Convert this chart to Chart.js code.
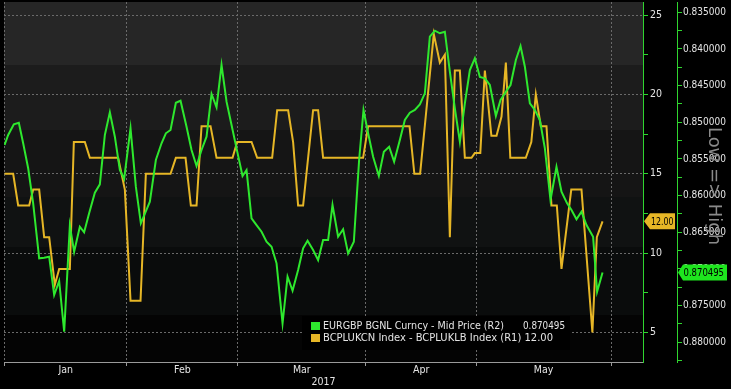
<!DOCTYPE html>
<html><head><meta charset="utf-8">
<script src="https://cdn.jsdelivr.net/npm/chart.js@4"></script>
<style>html,body{margin:0;padding:0;background:#000;overflow:hidden}#wrap{position:relative;width:731px;height:389px}</style>
</head><body><div id="wrap"><canvas id="c" width="731" height="389"></canvas></div>
<script>
const FONT = '"DejaVu Sans Condensed","Liberation Sans Narrow","Arial Narrow","Liberation Sans",sans-serif';

// x axis: trading-day index from 2 Jan 2017
const monthTickDays = [0, 22, 42, 65, 85, 109.3];
const monthLabelDays = [11, 32, 53.5, 75, 97];
const monthLabels = ['Jan', 'Feb', 'Mar', 'Apr', 'May'];
const yearLabel = '2017';

const greenLabel = 'EURGBP BGNL Curncy - Mid Price (R2)';
const greenDays = [0,0.65,1.67,2.57,3.35,4.25,5.15,6.23,7.13,8.03,8.93,9.83,10.73,11.75,12.52,13.55,14.32,15.22,16.25,17.15,18.05,18.95,19.85,20.75,21.52,22.67,23.63,24.53,26.15,27.23,28.25,29.03,29.87,30.83,31.67,32.75,33.65,34.55,35.45,36.35,37.25,38.15,39.05,39.95,40.85,41.75,42.83,43.55,44.45,45.35,46.25,47.15,48.05,48.95,50.03,50.93,51.83,52.83,53.73,54.53,55.53,56.43,57.33,58.23,59.02,60.03,60.93,61.83,62.86,63.81,64.60,65.43,66.33,67.36,68.26,69.21,70.11,71.14,72.04,72.94,73.84,74.74,75.64,76.54,77.44,78.34,79.24,80.14,81.04,81.94,82.84,83.74,84.64,85.54,86.44,87.34,88.42,89.26,90.22,91.06,92.02,92.86,93.64,94.54,95.44,96.34,97.24,98.25,99.33,100.23,101.24,102.03,102.93,103.83,104.73,105.92,106.64,107.62];
const greenVals = [0.85310,0.85173,0.85027,0.85006,0.85286,0.85627,0.86105,0.86855,0.86847,0.86833,0.87355,0.87164,0.87856,0.86410,0.86765,0.86424,0.86500,0.86241,0.85960,0.85846,0.85173,0.84864,0.85196,0.85651,0.85773,0.85082,0.85878,0.86377,0.86083,0.85514,0.85286,0.85150,0.85105,0.84733,0.84706,0.85060,0.85378,0.85596,0.85378,0.85196,0.84614,0.84796,0.84219,0.84719,0.85037,0.85355,0.85732,0.85651,0.86309,0.86401,0.86492,0.86628,0.86697,0.86923,0.87741,0.87106,0.87297,0.87014,0.86718,0.86615,0.86741,0.86878,0.86605,0.86605,0.86128,0.86560,0.86459,0.86787,0.86628,0.85514,0.84832,0.85150,0.85469,0.85732,0.85401,0.85333,0.85537,0.85241,0.84969,0.84869,0.84832,0.84755,0.84605,0.83833,0.83751,0.83786,0.83765,0.84310,0.84809,0.85265,0.84741,0.84287,0.84127,0.84382,0.84400,0.84491,0.84914,0.84696,0.84583,0.84491,0.84150,0.83960,0.84242,0.84741,0.84832,0.84969,0.85355,0.86060,0.85606,0.85946,0.86105,0.86196,0.86323,0.86219,0.86401,0.86560,0.87310,0.870495];

const yellowLabel = 'BCPLUKCN Index - BCPLUKLB Index (R1)';
const yellowDays = [0,1.55,2.45,4.43,5.15,6.23,7.13,8.03,9.05,9.83,11.75,12.47,14.45,15.35,20.44,21.65,22.67,24.47,25.43,29.87,30.83,32.57,33.53,34.55,35.45,37.07,38.15,41.03,41.86,44.45,45.46,48.16,49.06,51.04,51.93,52.83,53.73,55.53,56.43,57.33,64.53,65.43,72.88,73.75,74.79,77.25,78.34,79.24,80.14,81.04,81.94,82.84,84.04,84.64,85.62,86.44,87.61,88.54,89.44,90.22,91.02,93.81,94.80,95.61,96.51,97.53,98.43,99.39,100.23,101.99,103.83,105.79,106.59,107.62];
const yellowVals = [15,15,13,13,14,14,11,11,8,9,9,17,17,16,16,14,7,7,15,15,16,16,13,13,18,18,16,16,17,17,16,16,19,19,17,13,13,19,19,16,16,18,18,15,15,23.8,22,22.5,11,21.5,21.5,16,16,16.3,16.3,21.5,17.4,17.4,18.6,22,16,16,17,20,18,18,13,13,9,14,14,5,11,12];

const GREEN = '#2ee82e';
const YELLOW = '#e6b626';
const AXISGREEN = '#2fd52f';
const GRIDC = '#6a6a6a';
const TXT = '#e4e4e4';

function fitText(ctx, text, x, y, width) {
  const w = ctx.measureText(text).width;
  ctx.save();
  ctx.translate(x, y);
  ctx.scale(width / w, 1);
  ctx.fillText(text, 0, 0);
  ctx.restore();
}

const bandPlugin = {
  id: 'bands',
  beforeDraw(chart) {
    const {ctx, chartArea: a} = chart;
    ctx.save();
    ctx.fillStyle = '#000';
    ctx.fillRect(0, 0, chart.width, chart.height);
    const stops = [[0,63,'#262626'],[63,128,'#1c1c1c'],[128,195,'#151515'],[195,245,'#101212'],[245,313,'#0a0c0c'],[313,400,'#040404']];
    stops.forEach(([t,b,c]) => {
      const y0 = a.top + t, y1 = Math.min(a.bottom, a.top + b);
      if (y1 > y0) { ctx.fillStyle = c; ctx.fillRect(a.left, y0, a.right - a.left, y1 - y0); }
    });
    ctx.restore();
  },
  afterDatasetsDraw(chart) {
    const {ctx} = chart;
    const y1 = chart.scales.y1, y2 = chart.scales.y2;
    const gLast = greenVals[greenVals.length-1].toFixed(6);
    const yLast = yellowVals[yellowVals.length-1].toFixed(2);
    ctx.save();
    // legend
    ctx.fillStyle = '#000';
    ctx.fillRect(302, 316, 268, 34);
    ctx.font = '11px ' + FONT;
    ctx.textBaseline = 'middle';
    ctx.fillStyle = GREEN; ctx.fillRect(311, 322, 9, 8);
    ctx.fillStyle = YELLOW; ctx.fillRect(311, 334, 9, 8);
    ctx.fillStyle = TXT;
    fitText(ctx, chart.data.datasets[0].label, 323, 326, 181);
    fitText(ctx, gLast, 523, 326, 42);
    fitText(ctx, chart.data.datasets[1].label + ' ' + yLast, 323, 338.5, 230);
    // value tags
    const yy = y1.getPixelForValue(yellowVals[yellowVals.length-1]);
    const ax1 = y1.left;
    ctx.fillStyle = YELLOW;
    ctx.beginPath(); ctx.moveTo(ax1+1, yy); ctx.lineTo(ax1+7, yy-8); ctx.lineTo(ax1+32, yy-8); ctx.lineTo(ax1+32, yy+8); ctx.lineTo(ax1+7, yy+8); ctx.closePath(); ctx.fill();
    ctx.fillStyle = '#000';
    fitText(ctx, yLast, ax1+8, yy+0.5, 22.5);
    const gy = y2.getPixelForValue(greenVals[greenVals.length-1]);
    const ax2 = y2.left;
    ctx.fillStyle = '#1ee61e';
    ctx.beginPath(); ctx.moveTo(ax2+1, gy); ctx.lineTo(ax2+6, gy-8); ctx.lineTo(ax2+50, gy-8); ctx.lineTo(ax2+50, gy+8); ctx.lineTo(ax2+6, gy+8); ctx.closePath(); ctx.fill();
    ctx.fillStyle = '#000';
    fitText(ctx, gLast, ax2+6.5, gy+0.5, 40.5);
    // Low => High
    ctx.translate(714, 186);
    ctx.rotate(Math.PI/2);
    ctx.font = '18px ' + FONT;
    ctx.fillStyle = '#8a8a8a';
    ctx.textAlign = 'left';
    fitText(ctx, 'Low => High', -59, 0, 118);
    ctx.restore();
  }
};

const xTicks = monthTickDays.concat(monthLabelDays).sort((a,b)=>a-b);

new Chart(document.getElementById('c'), {
  type: 'line',
  data: {
    datasets: [
      { label: greenLabel, data: greenDays.map((d,i)=>({x:d, y:greenVals[i]})), yAxisID: 'y2', borderColor: GREEN, borderWidth: 2, pointRadius: 0, tension: 0 },
      { label: yellowLabel, data: yellowDays.map((d,i)=>({x:d, y:yellowVals[i]})), yAxisID: 'y1', borderColor: YELLOW, borderWidth: 2, pointRadius: 0, tension: 0 }
    ]
  },
  options: {
    responsive: false, animation: false, devicePixelRatio: 1,
    events: [],
    layout: { padding: { top: 2, left: 4, right: 0, bottom: 0 } },
    plugins: { legend: { display: false }, tooltip: { enabled: false } },
    scales: {
      x: {
        type: 'linear', min: -0.1, max: 114.9,
        afterBuildTicks: s => { s.ticks = xTicks.map(v => ({value: v})); },
        afterFit: s => { s.height = 27; s.paddingLeft = 0; s.paddingRight = 0; },
        grid: {
          color: c => (c.tick && monthTickDays.includes(c.tick.value)) ? GRIDC : 'rgba(0,0,0,0)',
          tickColor: c => (c.tick && monthTickDays.includes(c.tick.value)) ? '#9a9a9a' : 'rgba(0,0,0,0)',
          tickLength: 4, lineWidth: 1
        },
        border: { display: true, color: '#9a9a9a', width: 1, dash: [2, 2] },
        ticks: {
          autoSkip: false, maxRotation: 0, padding: -2, color: TXT,
          font: { family: FONT, size: 10.5 },
          callback: v => { const i = monthLabelDays.indexOf(v); return i >= 0 ? monthLabels[i] : ''; }
        },
        title: { display: true, text: yearLabel, color: TXT, font: { family: FONT, size: 10.5 }, padding: { top: -1, bottom: 0 } }
      },
      y1: {
        type: 'linear', position: 'right', weight: 0, min: 3.14, max: 25.82,
        afterFit: s => { s.width = 34; s.paddingTop = 0; s.paddingBottom = 0; },
        grid: {
          color: c => (c.tick && c.tick.value % 5 === 0) ? GRIDC : 'rgba(0,0,0,0)',
          tickColor: AXISGREEN, tickLength: 5, lineWidth: 1
        },
        border: { display: true, color: AXISGREEN, width: 1, dash: [2, 2] },
        ticks: {
          stepSize: 2.5, includeBounds: false, padding: 2, color: TXT,
          font: { family: FONT, size: 10.5 },
          callback: v => (v % 5 === 0 ? String(v) : '')
        }
      },
      y2: {
        type: 'linear', position: 'right', weight: 1, reverse: true, min: 0.833595, max: 0.882686,
        afterFit: s => { s.width = 54; s.paddingTop = 0; s.paddingBottom = 0; },
        grid: { drawOnChartArea: false, tickColor: AXISGREEN, tickLength: 5 },
        border: { display: true, color: AXISGREEN, width: 1 },
        ticks: {
          stepSize: 0.0025, includeBounds: false, padding: 1, color: TXT,
          font: { family: FONT, size: 10 },
          callback: v => (Math.abs(v * 200 - Math.round(v * 200)) < 1e-6 ? v.toFixed(6) : '')
        }
      }
    }
  },
  plugins: [bandPlugin]
});
</script></body></html>
